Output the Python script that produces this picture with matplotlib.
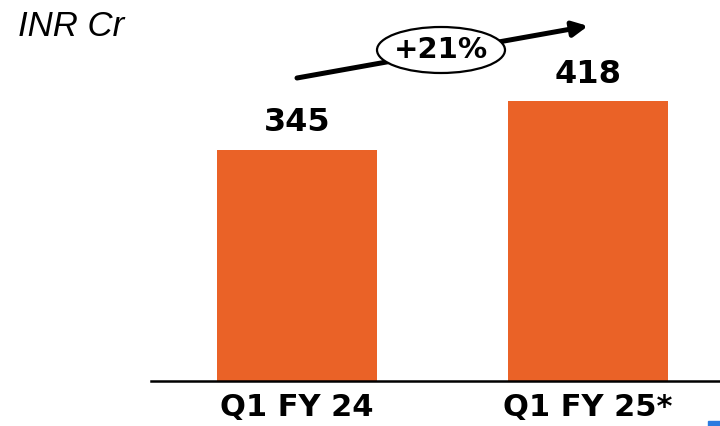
import matplotlib.pyplot as plt
from matplotlib.patches import Ellipse, Rectangle

# data
categories = ['Q1 FY 24', 'Q1 FY 25*']
values = [345, 418]
growth_label = '+21%'
unit_label = 'INR Cr'

W, H = 720, 426
fig = plt.figure(figsize=(W / 100, H / 100), dpi=100)
fig.patch.set_facecolor('white')

# axes placed so the baseline sits where the reference has it
ax = fig.add_axes([151 / W, 45 / H, 569 / W, 381 / H])
x = range(len(categories))
bars = ax.bar(x, values, width=0.55, color='#EA6227')
ax.set_xlim(-0.502, 1.454)
ax.set_ylim(0, 568)

for b, v in zip(bars, values):
    ax.annotate(str(v), (b.get_x() + b.get_width() / 2, v),
                xytext=(0, 8), textcoords='offset points',
                ha='center', va='bottom', fontsize=23, fontweight='bold')

ax.set_xticks(list(x))
ax.set_xticklabels(categories, fontsize=22, fontweight='bold')
ax.tick_params(axis='x', length=0, pad=9)
ax.set_yticks([])
for s in ['top', 'right', 'left']:
    ax.spines[s].set_visible(False)
ax.spines['bottom'].set_linewidth(1.8)
ax.spines['bottom'].set_color('black')

# unit label
fig.text(18 / W, 1 - 26 / H, unit_label, fontsize=25, style='italic',
         family='Liberation Sans', va='center', ha='left')

# growth arrow with ellipse badge
ax.annotate('', xy=(588 / W, 1 - 26 / H), xytext=(297 / W, 1 - 78 / H),
            xycoords='figure fraction', textcoords='figure fraction',
            arrowprops=dict(arrowstyle='-|>,head_length=0.9,head_width=0.45',
                            lw=3.6, color='black', shrinkA=0, shrinkB=0))
fig.patches.append(Ellipse((441 / W, 1 - 50 / H), 128 / W, 46 / H,
                           transform=fig.transFigure, facecolor='white',
                           edgecolor='black', lw=1.6, zorder=5))
fig.text(441 / W, 1 - 50 / H, growth_label, fontsize=21, fontweight='bold',
         ha='center', va='center', zorder=6)

# small blue marker at bottom-right corner
fig.patches.append(Rectangle((708 / W, 0), 12 / W, 5 / H,
                             transform=fig.transFigure, color='#2A7BE0'))

fig.savefig('out.png', dpi=100)
